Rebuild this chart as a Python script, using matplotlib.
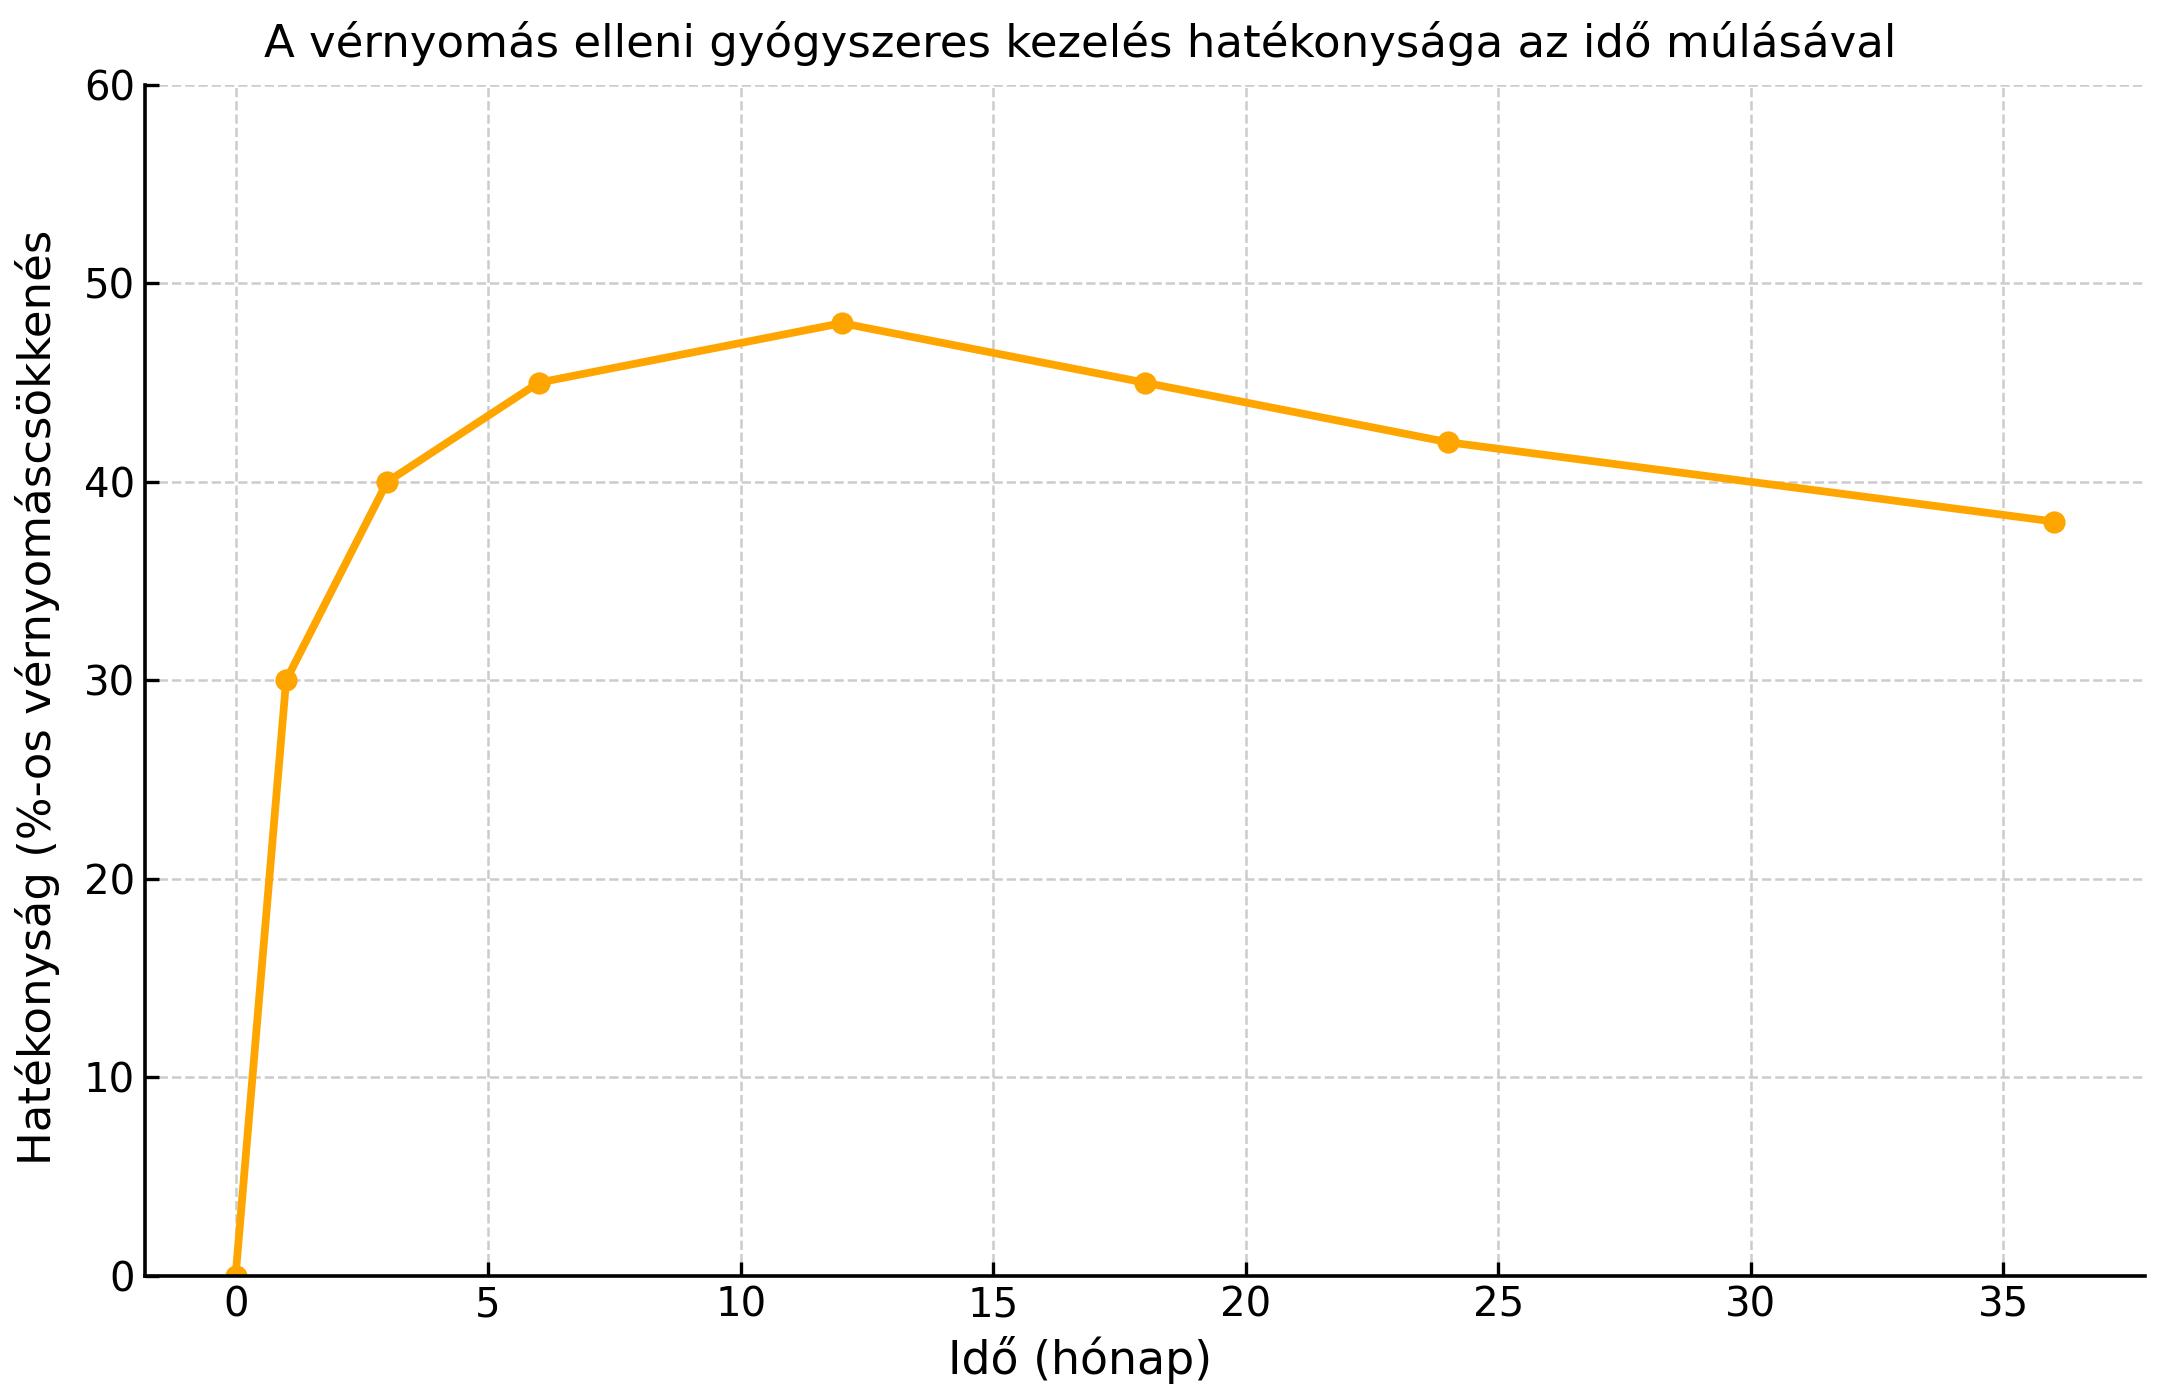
import matplotlib
matplotlib.use('Agg')
import matplotlib.pyplot as plt

# months since start of treatment
months = [0, 1, 3, 6, 12, 18, 24, 36]
# blood pressure reduction (%)
reduction = [0, 30, 40, 45, 48, 45, 42, 38]

title = 'A vérnyomás elleni gyógyszeres kezelés hatékonysága az idő múlásával'
x_label = 'Idő (hónap)'
y_label = 'Hatékonyság (%-os vérnyomáscsökkenés'


def plot_efficacy():
    plt.rcParams['font.family'] = ['DejaVu Sans']

    fig, ax = plt.subplots(figsize=(10.8, 6.97), dpi=200)

    ax.plot(months, reduction, color='#FFA500', linewidth=2.8,
            marker='o', markersize=7)

    ax.set_ylim(0, 60)
    # title and axis labels are centred on the figure, not on the axes
    fig.suptitle(title, fontsize=16.2, x=0.5, y=0.985)
    ax.set_xlabel(x_label, fontsize=16.5, labelpad=4)
    ax.set_ylabel(y_label, fontsize=16.2, labelpad=8.5)

    ax.grid(True, linestyle='--', color='#cccccc', linewidth=0.9)
    ax.tick_params(direction='in', labelsize=14.5, width=1.2, length=5)

    for side in ('top', 'right'):
        ax.spines[side].set_visible(False)
    for side in ('left', 'bottom'):
        ax.spines[side].set_linewidth(1.3)

    left, right, top, bottom = 0.067, 0.993, 0.939, 0.085
    fig.subplots_adjust(left=left, right=right, top=top, bottom=bottom)
    ax.xaxis.label.set_x((0.5 - left) / (right - left))
    ax.yaxis.label.set_y((0.5 - bottom) / (top - bottom))
    fig.savefig('out.png')


if __name__ == '__main__':
    plot_efficacy()
